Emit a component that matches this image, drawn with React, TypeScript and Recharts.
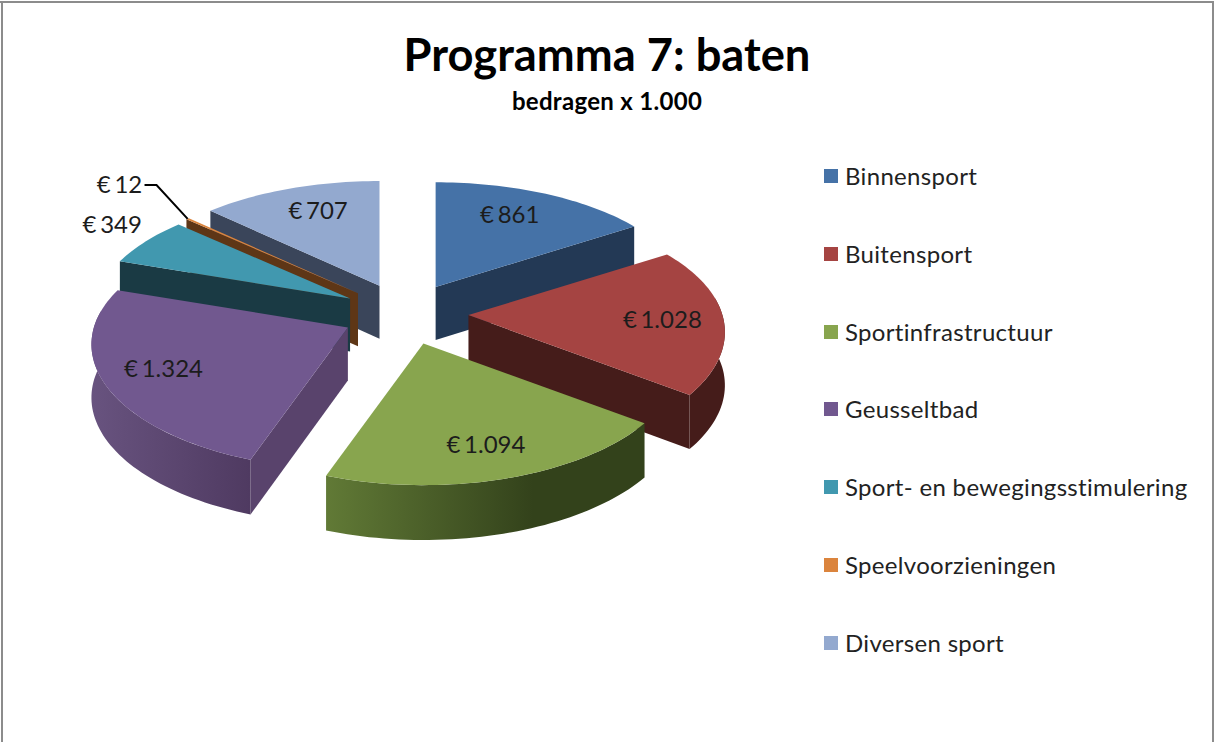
import React from "react";
import { PieChart, Pie, Legend } from "recharts";

// Data, in legend order
const categories = ["Binnensport", "Buitensport", "Sportinfrastructuur", "Geusseltbad", "Sport- en bewegingsstimulering", "Speelvoorzieningen", "Diversen sport"];
const values = [861, 1028, 1094, 1324, 349, 12, 707];
const valueLabels = ["€ 861", "€ 1.028", "€ 1.094", "€ 1.324", "€ 349", "€ 12", "€ 707"];
const titleText = "Programma 7: baten";
const subtitleText = "bedragen x 1.000";

// Styles, in legend order
const topColors = ["#4572a7", "#a54442", "#88a54e", "#71588f", "#4198af", "#db843d", "#93a9cf"];
const cutColors = ["#233955", "#451c1a", "#445327", "#59436c", "#1a3a44", "#5e3616", "#3a455a"];
const rimStops = [
  ["#233955", "#233955"],
  ["#451c1a", "#451c1a"],
  ["#617a36", "#33421b"],
  ["#68537f", "#4f3a61"],
  ["#1a3a44", "#1a3a44"],
  ["#5e3616", "#5e3616"],
  ["#3a455a", "#3a455a"],
];
const labelReachX = [0.69, 0.76, 0.75, 0.76, 1.165, 1.4, 0.69];
const labelReachY = [0.78, 0.76, 0.74, 0.7, 1.31, 1.48, 0.78];

// Two half-pies share the clock position 0: each paints its slices back-to-front
const clockwiseSet = [0, 1, 2];
const counterSet = [6, 5, 4, 3];
const total = values.reduce((a, b) => a + b, 0);
const rowsOf = (set: number[]) => set.map((i) => ({ name: categories[i], value: values[i], fill: topColors[i], source: i }));
const sweepOf = (set: number[]) => (set.reduce((a, i) => a + values[i], 0) / total) * 360;

const CX = 405;
const CY = 314;
const RADIUS = 254;
const rad = (d: number) => (d * Math.PI) / 180;

// Oblique projection of the pie plane
const flat = 0.485;
const spreadX = 0.14;
const spreadY = 0.15;
const explode = 0.25;
const rimFrom = 82;
const rimTo = 278;
const depthOf = (v: number) => 53 * (1 + 0.035 * v);

function apexOf(clockMid: number, cx: number, cy: number, R: number) {
  return {
    x: cx + explode * R * Math.sin(rad(clockMid)),
    y: cy - explode * R * flat * Math.cos(rad(clockMid)),
  };
}
function rimPoint(a: { x: number; y: number }, clock: number, R: number, reachX = 1, reachY = reachX) {
  const u = Math.sin(rad(clock));
  const v = -Math.cos(rad(clock));
  return {
    x: a.x + R * u * (1 + spreadX * v) * reachX,
    y: a.y + R * flat * v * (1 + spreadY * v) * reachY,
    v,
  };
}
function arc(a: { x: number; y: number }, from: number, to: number, R: number) {
  const n = Math.max(1, Math.ceil((to - from) / 1.5));
  const pts = [];
  for (let i = 0; i <= n; i++) pts.push(rimPoint(a, from + ((to - from) * i) / n, R));
  return pts;
}
const toPath = (pts: { x: number; y: number }[]) =>
  "M" + pts.map((p) => `${p.x.toFixed(2)},${p.y.toFixed(2)}`).join("L") + "Z";

function Slice3D(props: any) {
  const { cx, cy, outerRadius: R, startAngle, endAngle, payload } = props;
  const i = payload.source ?? props.source;
  const a0 = 90 - startAngle;
  const a1 = 90 - endAngle;
  const delta = Math.abs(a1 - a0);
  const c0 = ((Math.min(a0, a1) % 360) + 360) % 360;
  const c1 = c0 + delta;
  const apex = apexOf((c0 + c1) / 2, cx, cy, R);
  const down = (p: { x: number; y: number; v?: number }) => ({ x: p.x, y: p.y + depthOf(p.v ?? 0) });
  const apexPt = { ...apex, v: 0 };
  const cut = (clock: number) => {
    const p = rimPoint(apex, clock, R);
    return toPath([apexPt, p, down(p), down(apexPt)]);
  };
  const showStart = -Math.cos(rad(c0 - 90)) > 0;
  const showEnd = -Math.cos(rad(c1 + 90)) > 0;
  const w0 = Math.max(c0, rimFrom);
  const w1 = Math.min(c1, rimTo);
  const hasRim = w1 > w0;
  const rimTop = hasRim ? arc(apex, w0, w1, R) : [];
  const rimPath = hasRim ? toPath([...rimTop, ...rimTop.map(down).reverse()]) : "";
  const xs = rimTop.map((p) => p.x);
  const gid = `rim-${i}`;
  const top = toPath([apexPt, ...arc(apex, c0, c1, R)]);
  return (
    <g>
      {hasRim && (
        <defs>
          <linearGradient id={gid} gradientUnits="userSpaceOnUse" x1={Math.min(...xs)} x2={Math.max(...xs)} y1={0} y2={0}>
            <stop offset="0" stopColor={rimStops[i][0]} />
            <stop offset={i === 2 ? "0.65" : "1"} stopColor={rimStops[i][1]} />
          </linearGradient>
        </defs>
      )}
      {showStart && <path d={cut(c0)} fill={cutColors[i]} />}
      {showEnd && <path d={cut(c1)} fill={cutColors[i]} />}
      {hasRim && <path d={rimPath} fill={`url(#${gid})`} />}
      <path d={top} fill={topColors[i]} />
    </g>
  );
}

function SliceLabel(props: any) {
  const { cx, cy, outerRadius: R, midAngle } = props;
  const i = props.source ?? props.payload?.source;
  const clock = ((90 - midAngle) % 360 + 360) % 360;
  const apex = apexOf(clock, cx, cy, R);
  const p = rimPoint(apex, clock, R, labelReachX[i], labelReachY[i]);
  const rim = rimPoint(apex, clock, R);
  const isLeader = categories[i] === "Speelvoorzieningen";
  return (
    <g>
      {isLeader && (
        <polyline
          points={`${rim.x},${rim.y} ${p.x + 37},${p.y + 2} ${p.x + 25},${p.y + 2}`}
          fill="none"
          stroke="#000"
          strokeWidth={2}
        />
      )}
      <text x={p.x} y={p.y} textAnchor="middle" dominantBaseline="central" fontFamily="Lato" fontSize={24} wordSpacing={-2.5} fill="#1c1c1c">
        {valueLabels[i]}
      </text>
    </g>
  );
}

function LegendBlock() {
  return (
    <div style={{ position: "absolute", left: 824, top: 137 }}>
      {categories.map((name, i) => (
        <div key={name} style={{ position: "absolute", left: 0, top: i * 77.8, height: 78, width: 380, whiteSpace: "nowrap" }}>
          <span style={{ position: "absolute", left: 0, top: 32, width: 14, height: 14, background: topColors[i] }} />
          <span style={{ position: "absolute", left: 21, top: 24, fontFamily: "Lato", fontSize: 24, lineHeight: "30px", letterSpacing: 0.32, color: "#222" }}>
            {name}
          </span>
        </div>
      ))}
    </div>
  );
}

export default function App() {
  const pieProps = {
    dataKey: "value",
    nameKey: "name",
    cx: CX,
    cy: CY,
    innerRadius: 0,
    outerRadius: RADIUS,
    stroke: "none",
    isAnimationActive: false,
    labelLine: false,
    label: SliceLabel,
    shape: Slice3D,
  };
  return (
    <div style={{ position: "absolute", left: 0, top: 0, width: 1214, height: 742, background: "#fff", overflow: "hidden" }}>
      <PieChart width={1214} height={742} margin={{ top: 0, right: 0, bottom: 0, left: 0 }}>
        <text x={607} y={53} textAnchor="middle" dominantBaseline="central" fontFamily="Lato" fontWeight={700} fontSize={45.3} fill="#000">
          {titleText}
        </text>
        <text x={607} y={100} textAnchor="middle" dominantBaseline="central" fontFamily="Lato" fontWeight={700} fontSize={24} letterSpacing={0.3} fill="#000">
          {subtitleText}
        </text>
        <Pie {...pieProps} data={rowsOf(counterSet)} startAngle={90} endAngle={90 + sweepOf(counterSet)} />
        <Pie {...pieProps} data={rowsOf(clockwiseSet)} startAngle={90} endAngle={90 - sweepOf(clockwiseSet)} />
        <Legend content={LegendBlock} wrapperStyle={{ position: "absolute", left: 0, top: 0, width: 0, height: 0 }} />
      </PieChart>
      <div style={{ position: "absolute", left: 0, top: 0, width: 1214, height: 3, background: "#8c8c8c", borderTop: "1px solid #fff", boxSizing: "border-box" }} />
      <div style={{ position: "absolute", left: 1, top: 1, width: 2, height: 741, background: "#8c8c8c" }} />
      <div style={{ position: "absolute", left: 1212, top: 1, width: 2, height: 741, background: "#8c8c8c" }} />
    </div>
  );
}
